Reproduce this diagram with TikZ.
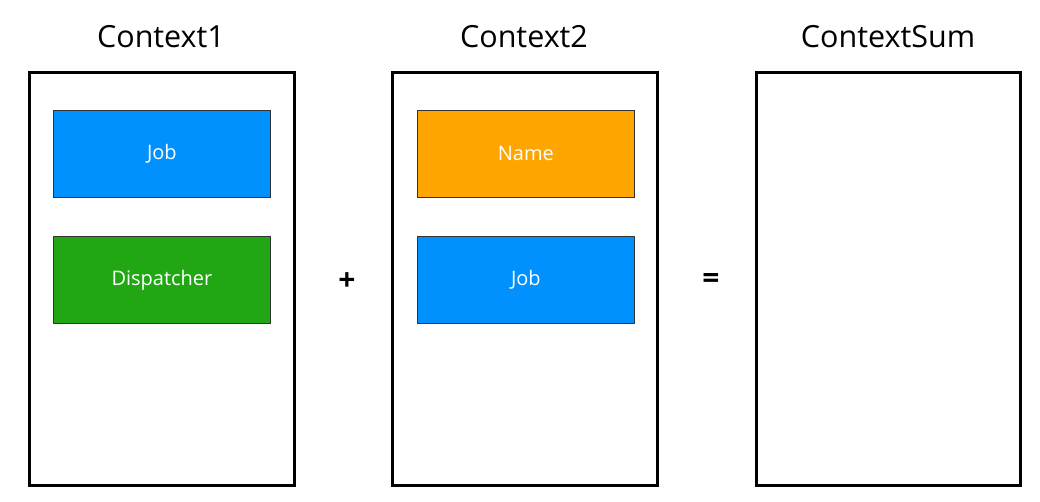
\documentclass[tikz,border=0pt]{standalone}
\usepackage{fontspec}
\setmainfont{Open Sans}
\definecolor{jobblue}{HTML}{0091FF}
\definecolor{dispgreen}{HTML}{22A714}
\definecolor{nameorange}{HTML}{FFA500}
\begin{document}
\begin{tikzpicture}[x=1pt,y=-1pt,
  ctx/.style={draw=black,line width=3pt},
  item/.style={draw=black!80,line width=0.8pt,minimum width=217pt,minimum height=87pt,anchor=north west,text=white,font=\fontsize{20}{22}\selectfont,inner sep=0pt},
  title/.style={font=\fontsize{30.5}{33}\selectfont,text=black},
  op/.style={font=\fontsize{30}{32}\selectfont\bfseries}]
\useasboundingbox (0,0) rectangle (1040,501);
\draw[ctx] (29,72) rectangle (294,485);
\draw[ctx] (392,72) rectangle (657,485);
\draw[ctx] (756,72) rectangle (1020,485);
\node[title] (t1) at (161,37) {Context1};
\node[title] (t2) at (524,37) {Context2};
\node[title] (t3) at (888,37) {ContextSum};
\node[item,fill=jobblue] (job1) at (53,110) {Job};
\node[item,fill=dispgreen] (disp) at (53,236) {Dispatcher};
\node[item,fill=nameorange] (name) at (417,110) {Name};
\node[item,fill=jobblue] (job2) at (417,236) {Job};
\node[op] (plus) at (347,282) {+};
\node[op] (eq) at (711,281) {=};
\end{tikzpicture}
\end{document}
